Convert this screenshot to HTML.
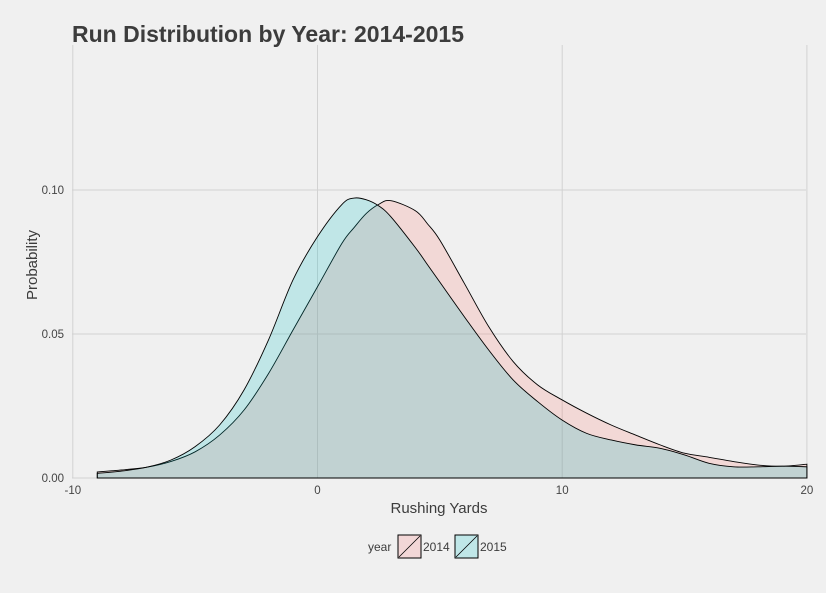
<!DOCTYPE html>
<html><head><meta charset="utf-8"><style>
body{margin:0;background:#f0f0f0;}
svg{display:block;font-family:"Liberation Sans",sans-serif;}
</style></head><body>
<svg id="chart" width="826" height="593">
<rect width="826" height="593" fill="#f0f0f0"/>
<text x="72" y="42" font-size="23" font-weight="bold" fill="#3c3c3c">Run Distribution by Year: 2014-2015</text>
<g id="grid"></g>
<g id="series"></g>
<g id="ticks"></g>
<text x="439" y="513" font-size="15" fill="#3c3c3c" text-anchor="middle">Rushing Yards</text>
<text transform="translate(37,265) rotate(-90)" font-size="15" fill="#3c3c3c" text-anchor="middle">Probability</text>
<g>
<text x="368" y="551" font-size="12" fill="#3c3c3c">year</text>
<g>
<rect x="398" y="535" width="23" height="23" fill="#f2d7d7" stroke="#000" stroke-width="1"/>
<line x1="399" y1="557" x2="420" y2="536" stroke="#000" stroke-width="0.8"/>
<text x="423" y="551" font-size="12" fill="#3c3c3c">2014</text></g>
<g>
<rect x="455" y="535" width="23" height="23" fill="#c0e7e8" stroke="#000" stroke-width="1"/>
<line x1="456" y1="557" x2="477" y2="536" stroke="#000" stroke-width="0.8"/>
<text x="480" y="551" font-size="12" fill="#3c3c3c">2015</text></g>
</g>
</svg>
<script>
const xs = [-9,-8,-7,-6,-5,-4,-3,-2,-1,0,1,1.5,2,2.5,3,4,4.5,5,6,7,8,9,10,11,12,13,14,15,16,17,18,19,20];
const y2014 = [0.0021,0.0028,0.0037,0.0057,0.0091,0.0149,0.0236,0.0363,0.0514,0.0664,0.0815,0.087,0.0919,0.0950,0.0963,0.0928,0.0882,0.0826,0.0676,0.0525,0.0404,0.0323,0.0271,0.0225,0.0184,0.0149,0.0115,0.0086,0.0072,0.0057,0.0045,0.0041,0.0048];
const y2015 = [0.0016,0.0024,0.0037,0.0062,0.0109,0.0184,0.0306,0.048,0.0688,0.0838,0.0950,0.0972,0.0966,0.0945,0.0907,0.0800,0.0740,0.0680,0.056,0.0444,0.034,0.0265,0.0201,0.0155,0.0132,0.0115,0.0103,0.008,0.0051,0.0039,0.0039,0.0041,0.0039];
const xTicks = [-10,0,10,20];
const xTickLabels = ["-10","0","10","20"];
const yTicks = [0,0.05,0.10];
const yTickLabels = ["0.00","0.05","0.10"];
const NS="http://www.w3.org/2000/svg";
const X = v => 317.5 + v*24.47;
const Y = v => 478 - v*2880;
const grid=document.getElementById('grid'), ticks=document.getElementById('ticks'), series=document.getElementById('series');
function mk(tag,attrs,parent){const e=document.createElementNS(NS,tag);for(const k in attrs)e.setAttribute(k,attrs[k]);parent.appendChild(e);return e;}
xTicks.forEach((t,i)=>{
  const l=mk('line',{x1:X(t),x2:X(t),y1:45,y2:478,stroke:'#d2d2d2','stroke-width':1},grid);
  
  
  const tx=mk('text',{x:X(t),y:494,'font-size':11.5,fill:'#444','text-anchor':'middle'},ticks);
  tx.textContent=xTickLabels[i];
  
  
});
yTicks.forEach((t,i)=>{
  const l=mk('line',{x1:72,x2:806,y1:Y(t),y2:Y(t),stroke:'#d2d2d2','stroke-width':1},grid);
  
  
  const tx=mk('text',{x:64,y:Y(t)+4,'font-size':11.5,fill:'#444','text-anchor':'end'},ticks);
  tx.textContent=yTickLabels[i];
  
  
});
function pathFor(ys){
  const p=xs.map((x,i)=>[X(x),Y(ys[i])]);
  let d=`M${p[0][0]},${Y(0)} L${p[0][0]},${p[0][1]}`;
  for(let i=0;i<p.length-1;i++){
    const p0=p[i-1]||p[i],p1=p[i],p2=p[i+1],p3=p[i+2]||p2;
    const c1=[p1[0]+(p2[0]-p0[0])/6,p1[1]+(p2[1]-p0[1])/6];
    const c2=[p2[0]-(p3[0]-p1[0])/6,p2[1]-(p3[1]-p1[1])/6];
    d+=` C${c1[0]},${c1[1]} ${c2[0]},${c2[1]} ${p2[0]},${p2[1]}`;
  }
  d+=` L${p[p.length-1][0]},${Y(0)} Z`;
  return d;
}
const a=mk('path',{d:pathFor(y2014),fill:'#f8766d','fill-opacity':0.2,stroke:'#000','stroke-width':0.9},series);


const b=mk('path',{d:pathFor(y2015),fill:'#00bfc4','fill-opacity':0.2,stroke:'#000','stroke-width':0.9},series);


</script>
</body></html>
